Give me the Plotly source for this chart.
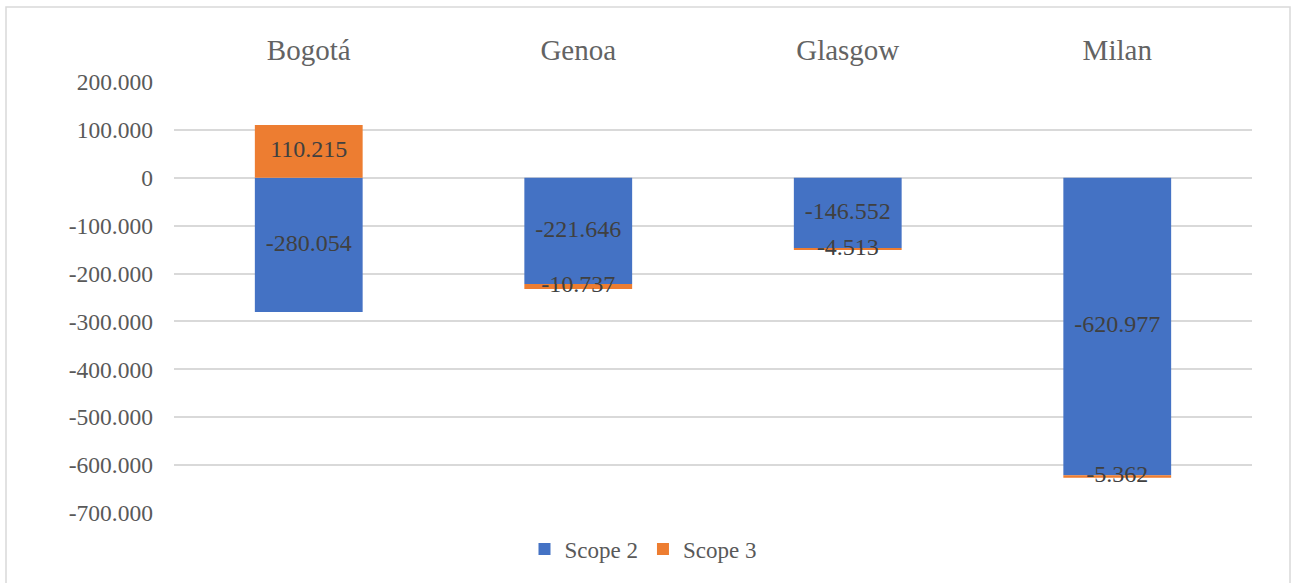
import plotly.graph_objects as go

# Emission changes per city (tCO2e)
cities = ["Bogotá", "Genoa", "Glasgow", "Milan"]
scope2 = [-280054, -221646, -146552, -620977]
scope3 = [110215, -10737, -4513, -5362]
tick_values = [200000, 100000, 0, -100000, -200000, -300000, -400000, -500000, -600000, -700000]
tick_labels = ["200.000", "100.000", "0", "-100.000", "-200.000", "-300.000",
               "-400.000", "-500.000", "-600.000", "-700.000"]

BLUE = "#4472C4"
ORANGE = "#ED7D31"
FONT = "Liberation Serif"


def fmt(v):
    return f"{v:,}".replace(",", ".")


# Label positions: centre of each stacked segment (relative stacking)
def centres(base_vals, top_vals):
    c_base, c_top = [], []
    for b, t in zip(base_vals, top_vals):
        c_base.append(b / 2)
        if (t >= 0) == (b >= 0):
            c_top.append(b + t / 2)
        else:
            c_top.append(t / 2)
    return c_base, c_top


c2, c3 = centres(scope2, scope3)

fig = go.Figure()
fig.add_trace(go.Bar(name="Scope 2", x=cities, y=scope2, marker_color=BLUE,
                     marker_line_width=0, width=0.4, hoverinfo="skip"))
fig.add_trace(go.Bar(name="Scope 3", x=cities, y=scope3, marker_color=ORANGE,
                     marker_line_width=0, width=0.4, hoverinfo="skip"))
fig.add_trace(go.Scatter(x=cities + cities, y=c2 + c3, mode="text",
                         text=[fmt(v) for v in scope2 + scope3],
                         textfont=dict(family=FONT, size=24, color="#404040"),
                         showlegend=False, hoverinfo="skip"))

# plot area in pixels
W, H = 1291, 583
L, R, T, B = 174, 39, 82, 70
pw, ph = W - L - R, H - T - B


def px_x(x):
    return (x - L) / pw


def px_y(y):
    return (H - B - y) / ph


fig.update_layout(
    width=W, height=H,
    margin=dict(l=L, r=R, t=T, b=B),
    barmode="relative",
    plot_bgcolor="white", paper_bgcolor="white",
    font=dict(family=FONT, color="#595959"),
    xaxis=dict(side="top", showline=False, showgrid=False, ticks="",
               tickfont=dict(size=29, color="#636363"), ticklabelstandoff=15,
               fixedrange=True),
    yaxis=dict(range=[-700000, 200000], tickvals=tick_values, ticktext=tick_labels,
               showgrid=True, gridcolor="#d9d9d9", gridwidth=1.5, zeroline=False,
               showline=False, ticks="", tickfont=dict(size=23.5, color="#595959"),
               ticklabelstandoff=20, fixedrange=True),
    legend=dict(orientation="h", x=px_x(643), xanchor="center", y=px_y(549),
                yanchor="middle", font=dict(size=23, color="#595959"),
                itemwidth=30, tracegroupgap=0, bgcolor="rgba(0,0,0,0)"),
    shapes=[dict(type="rect", xref="paper", yref="paper",
                 x0=px_x(6), x1=px_x(1290), y0=px_y(600), y1=px_y(7),
                 line=dict(color="#d9d9d9", width=1.5), fillcolor="rgba(0,0,0,0)",
                 layer="below")],
)

fig.write_html("out.html")
